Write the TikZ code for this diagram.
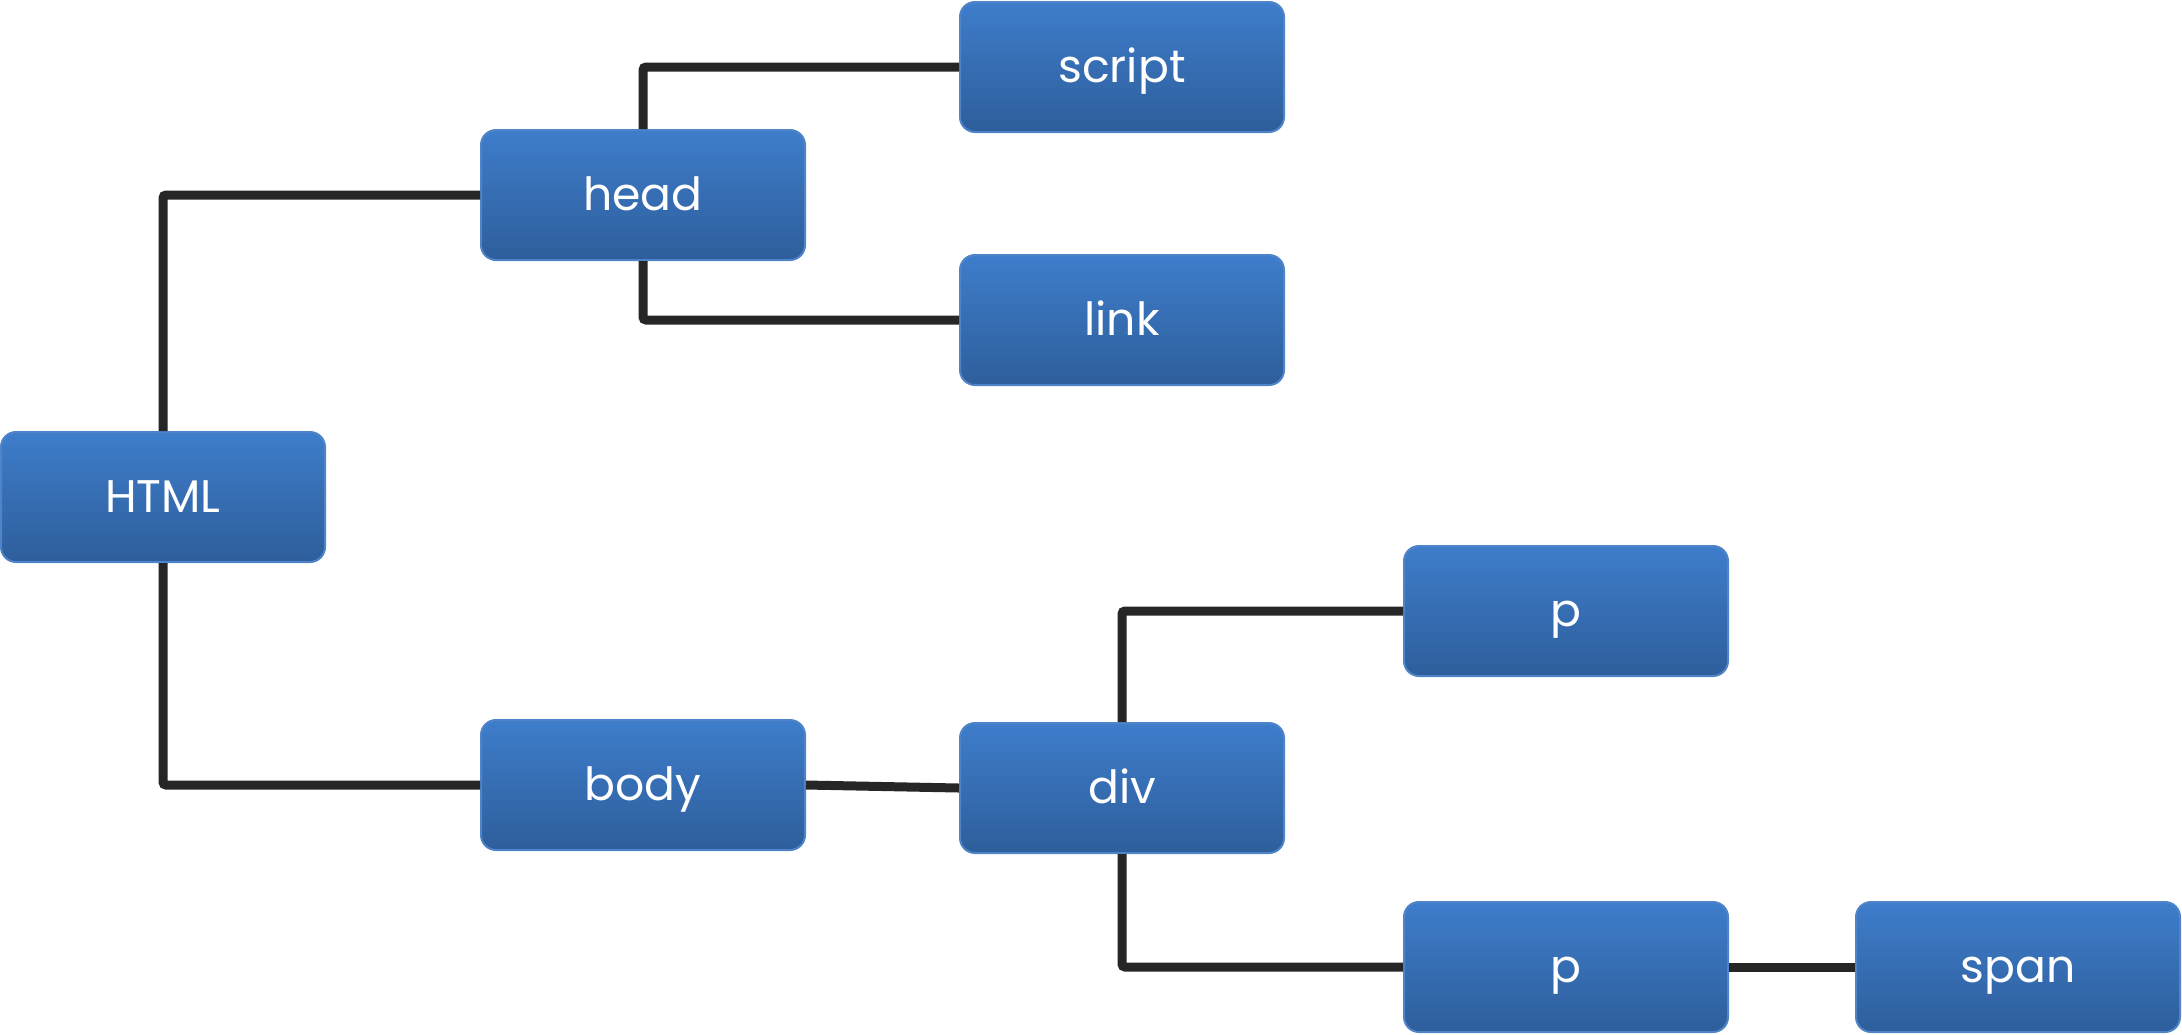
\documentclass[tikz,border=0pt]{standalone}
\usepackage{fontspec}
\setmainfont{Poppins}
\definecolor{boxtop}{HTML}{3E7DCB}
\definecolor{boxbottom}{HTML}{2E5E9B}
\definecolor{boxedge}{HTML}{4F84C8}
\definecolor{linegray}{HTML}{262626}

\begin{document}
\begin{tikzpicture}[x=0.1mm, y=-0.1mm,
roundnode/.style={rectangle, rounded corners=1.5mm, draw=boxedge, line width=0.2mm, top color=boxtop, bottom color=boxbottom, minimum width=32.4mm, minimum height=13mm, text=white, text height=1.15em, text depth=0.25em, font=\fontsize{13pt}{15pt}\selectfont},
treeline/.style={draw=linegray, line width=0.9mm, rounded corners=0.3mm}
]
\useasboundingbox (0,0) rectangle (2182,1034);
%Nodes
\node[roundnode] (html) at (163,497) {HTML};
\node[roundnode] (head) at (643,195) {head};
\node[roundnode] (script) at (1122,67) {script};
\node[roundnode] (link) at (1122,320) {link};
\node[roundnode] (body) at (643,785) {body};
\node[roundnode] (div) at (1122,788) {div};
\node[roundnode] (ptop) at (1566,611) {p};
\node[roundnode] (pbottom) at (1566,967) {p};
\node[roundnode] (span) at (2018,967) {span};

%Lines
\draw[treeline] (html.north) |- (head.west);
\draw[treeline] (html.south) |- (body.west);
\draw[treeline] (head.north) |- (script.west);
\draw[treeline] (head.south) |- (link.west);
\draw[treeline] (body.east) -- (div.west);
\draw[treeline] (div.north) |- (ptop.west);
\draw[treeline] (div.south) |- (pbottom.west);
\draw[treeline] (pbottom.east) -- (span.west);

\end{tikzpicture}
\end{document}
